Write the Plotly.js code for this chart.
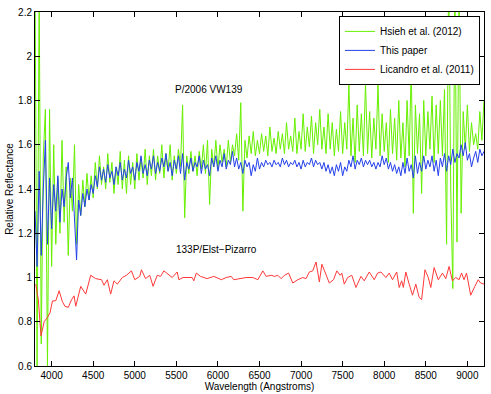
<!DOCTYPE html>
<html>
<head>
<meta charset="utf-8">
<script src="https://cdn.plot.ly/plotly-3.0.1.min.js"></script>
<style>
  html, body { margin: 0; padding: 0; background: #fff; }
  #graph { width: 491px; height: 394px; }
</style>
</head>
<body>
<div id="graph"></div>
<script>
var startWave = 3800;
var waveStep = 25;

var hsiehRefl = [
  2.40, 0.60, 2.30, 0.70, 1.55, 1.76, 0.60, 1.76, 1.05, 1.60,
  1.15, 1.45, 1.20, 1.62, 1.25, 1.50, 1.10, 1.45, 1.30, 1.60,
  1.15, 1.42, 1.28, 1.44, 1.32, 1.47, 1.35, 1.46, 1.36, 1.52,
  1.40, 1.55, 1.42, 1.50, 1.40, 1.56, 1.43, 1.52, 1.38, 1.50,
  1.42, 1.57, 1.40, 1.53, 1.38, 1.55, 1.42, 1.52, 1.40, 1.56,
  1.44, 1.54, 1.45, 1.58, 1.42, 1.55, 1.46, 1.58, 1.44, 1.55,
  1.47, 1.60, 1.45, 1.56, 1.48, 1.60, 1.44, 1.55, 1.47, 1.58,
  1.50, 1.78, 1.27, 1.55, 1.47, 1.57, 1.48, 1.55, 1.46, 1.57,
  1.49, 1.60, 1.47, 1.62, 1.33, 1.58, 1.50, 1.62, 1.49, 1.60,
  1.52, 1.58, 1.50, 1.62, 1.52, 1.60, 1.55, 1.65, 1.53, 1.79,
  1.30, 1.62, 1.54, 1.64, 1.56, 1.66, 1.55, 1.62, 1.56, 1.65,
  1.57, 1.64, 1.55, 1.68, 1.57, 1.63, 1.56, 1.66, 1.58, 1.65,
  1.56, 1.70, 1.58, 1.64, 1.57, 1.72, 1.56, 1.66, 1.58, 1.74,
  1.57, 1.68, 1.59, 1.73, 1.56, 1.70, 1.60, 1.76, 1.58, 1.68,
  1.56, 1.74, 1.58, 1.70, 1.55, 1.67, 1.57, 1.75, 1.56, 1.70,
  1.58, 1.87, 1.55, 1.72, 1.52, 1.78, 1.57, 1.74, 1.55, 1.88,
  1.56, 1.75, 1.54, 1.72, 1.58, 1.87, 1.55, 1.74, 1.57, 1.70,
  1.52, 1.76, 1.56, 1.72, 1.53, 1.80, 1.54, 1.70, 1.50, 1.80,
  1.55, 1.95, 1.29, 1.78, 1.56, 1.74, 1.38, 1.80, 1.55, 1.75,
  1.58, 1.82, 1.52, 1.78, 1.56, 1.80, 1.55, 1.85, 1.15, 2.40,
  1.40, 0.95, 2.35, 1.16, 2.30, 1.29, 1.75, 1.58, 1.78, 1.57,
  1.70, 1.60, 1.65, 1.58, 1.75, 1.62, 1.80
];

var thisPaperRefl = [
  1.30, 1.05, 1.48, 1.10, 1.40, 1.62, 1.15, 1.45, 1.22, 1.42,
  1.30, 1.46, 1.25, 1.40, 1.32, 1.45, 1.52, 1.36, 1.45, 1.28,
  1.08, 1.35, 1.28, 1.38, 1.32, 1.40, 1.35, 1.42, 1.38, 1.46,
  1.41, 1.50, 1.44, 1.49, 1.43, 1.51, 1.45, 1.48, 1.42, 1.50,
  1.46, 1.52, 1.44, 1.49, 1.45, 1.53, 1.47, 1.50, 1.44, 1.52,
  1.48, 1.55, 1.47, 1.51, 1.46, 1.53, 1.49, 1.55, 1.47, 1.52,
  1.48, 1.54, 1.50, 1.56, 1.48, 1.52, 1.46, 1.53, 1.49, 1.55,
  1.47, 1.56, 1.44, 1.52, 1.49, 1.54, 1.48, 1.52, 1.50, 1.55,
  1.47, 1.53, 1.49, 1.51, 1.46, 1.54, 1.50, 1.55, 1.48, 1.53,
  1.50, 1.56, 1.49, 1.53, 1.51, 1.57, 1.50, 1.54, 1.49, 1.52,
  1.47, 1.53, 1.50, 1.52, 1.46, 1.51, 1.48, 1.54, 1.49, 1.52,
  1.50, 1.53, 1.51, 1.52, 1.50, 1.53, 1.51, 1.52, 1.50, 1.54,
  1.51, 1.53, 1.50, 1.52, 1.51, 1.53, 1.50, 1.52, 1.49, 1.53,
  1.50, 1.52, 1.51, 1.54, 1.50, 1.53, 1.51, 1.52, 1.49, 1.52,
  1.48, 1.51, 1.47, 1.50, 1.46, 1.51, 1.48, 1.52, 1.46, 1.50,
  1.48, 1.53, 1.50, 1.55, 1.49, 1.53, 1.51, 1.54, 1.50, 1.53,
  1.51, 1.53, 1.50, 1.52, 1.49, 1.52, 1.50, 1.55, 1.51, 1.54,
  1.49, 1.52, 1.48, 1.51, 1.47, 1.50, 1.46, 1.52, 1.47, 1.54,
  1.48, 1.51, 1.45, 1.55, 1.47, 1.52, 1.48, 1.55, 1.49, 1.53,
  1.50, 1.55, 1.48, 1.53, 1.46, 1.54, 1.50, 1.56, 1.48, 1.55,
  1.51, 1.58, 1.52, 1.56, 1.54, 1.60, 1.55, 1.61, 1.53, 1.56,
  1.50, 1.54, 1.57, 1.52, 1.58, 1.55, 1.57
];

// Licandro et al. (2011), irregular sampling
var licandroWave = [
  3810, 3840, 3872, 3910, 3950, 3980, 4010, 4050, 4090, 4130,
  4160, 4200, 4240, 4270, 4290, 4350, 4410, 4470, 4530, 4600,
  4630, 4670, 4710, 4750, 4790, 4850, 4900, 4960, 5000, 5060,
  5080, 5130, 5180, 5210, 5220, 5270, 5310, 5350, 5410, 5450,
  5510, 5530, 5580, 5640, 5690, 5710, 5740, 5790, 5870, 5950,
  6040, 6100, 6160, 6190, 6270, 6340, 6420, 6480, 6540, 6580,
  6640, 6680, 6720, 6760, 6800, 6850, 6900, 6960, 7020, 7060,
  7100, 7140, 7180, 7220, 7250, 7300, 7340, 7390, 7430, 7470,
  7490, 7520, 7560, 7610, 7660, 7720, 7760, 7820, 7880, 7920,
  7960, 8020, 8060, 8100, 8150, 8180, 8210, 8230, 8260, 8300,
  8340, 8380, 8420, 8450, 8490, 8530, 8560, 8600, 8650, 8700,
  8740, 8780, 8820, 8860, 8900, 8930, 8960, 8990, 9040, 9090,
  9130, 9160, 9200
];
var licandroRefl = [
  0.97, 0.90, 0.736, 0.80, 0.82, 0.84, 0.894, 0.895, 0.94, 0.89,
  0.87, 0.865, 0.90, 0.917, 0.87, 0.96, 0.925, 1.01, 0.995, 0.99,
  0.965, 0.99, 0.925, 0.985, 0.97, 1.00, 1.01, 1.03, 0.99, 1.005,
  1.035, 0.995, 1.01, 0.975, 0.96, 1.01, 1.005, 1.03, 1.01, 1.00,
  1.025, 0.99, 1.00, 1.00, 1.00, 0.985, 1.02, 1.005, 0.995, 1.005,
  0.99, 1.00, 1.005, 0.99, 0.995, 1.00, 1.00, 0.99, 1.03, 1.005,
  1.01, 1.005, 1.01, 0.995, 1.01, 1.02, 0.975, 0.99, 1.00, 0.995,
  1.025, 1.03, 1.07, 0.98, 1.06, 1.01, 0.975, 0.99, 1.03, 1.01,
  1.02, 0.97, 1.00, 1.01, 0.955, 1.005, 0.985, 1.025, 0.99, 1.02,
  1.025, 1.00, 1.02, 0.99, 1.025, 0.955, 0.985, 0.955, 1.025, 0.97,
  0.92, 0.97, 0.91, 0.90, 1.035, 1.00, 0.955, 1.045, 0.99, 1.02,
  0.995, 1.05, 0.985, 1.00, 0.99, 1.02, 0.99, 1.02, 0.92, 0.96,
  0.99, 0.975, 0.97
];

var xTicks = [4000, 4500, 5000, 5500, 6000, 6500, 7000, 7500, 8000, 8500, 9000];
var yTicks = [0.6, 0.8, 1, 1.2, 1.4, 1.6, 1.8, 2, 2.2];
var yTickText = ["0.6", "0.8", "1", "1.2", "1.4", "1.6", "1.8", "2", "2.2"];

var hsieh = {
    x0: startWave, dx: waveStep, y: hsiehRefl,
    type: 'scatter', mode: 'lines', name: 'Hsieh et al. (2012)',
    line: {color: '#66f000', width: 1}
};
var thisPaper = {
    x0: startWave, dx: waveStep, y: thisPaperRefl,
    type: 'scatter', mode: 'lines', name: 'This paper',
    line: {color: '#2440ea', width: 1}
};
var licandro = {
    x: licandroWave, y: licandroRefl,
    type: 'scatter', mode: 'lines', name: 'Licandro et al. (2011)',
    line: {color: '#ff3838', width: 1}
};

var axisStyle = {
    showgrid: false, zeroline: false,
    showline: true, linecolor: '#000', linewidth: 1, mirror: 'ticks',
    ticks: 'inside', ticklen: 5, tickcolor: '#000',
    tickfont: {size: 10, color: '#000'}
};

var layout = {
    width: 491, height: 394,
    margin: {l: 35, r: 7, t: 12, b: 28},
    paper_bgcolor: '#fff', plot_bgcolor: '#fff',
    font: {family: 'Liberation Sans, Arial, sans-serif', size: 10, color: '#000'},
    showlegend: true,
    legend: {
        x: 0.991, y: 0.989, xanchor: 'right', yanchor: 'top',
        bgcolor: '#fff', bordercolor: '#000', borderwidth: 1,
        font: {size: 10}, tracegroupgap: 0
    },
    xaxis: Object.assign({}, axisStyle, {
        range: [3800, 9200], tickvals: xTicks,
        title: {text: 'Wavelength (Angstroms)', font: {size: 10}, standoff: 2}
    }),
    yaxis: Object.assign({}, axisStyle, {
        range: [0.6, 2.2], tickvals: yTicks, ticktext: yTickText,
        title: {text: 'Relative Reflectance', font: {size: 10}, standoff: 2}
    }),
    annotations: [
        {x: 5897, y: 1.85, xref: 'x', yref: 'y', text: 'P/2006 VW139',
         showarrow: false, font: {size: 10}},
        {x: 5984, y: 1.126, xref: 'x', yref: 'y', text: '133P/Elst\u2212Pizarro',
         showarrow: false, font: {size: 10}}
    ]
};

Plotly.newPlot('graph', [hsieh, thisPaper, licandro], layout, {displayModeBar: false, staticPlot: true});
</script>
</body>
</html>
